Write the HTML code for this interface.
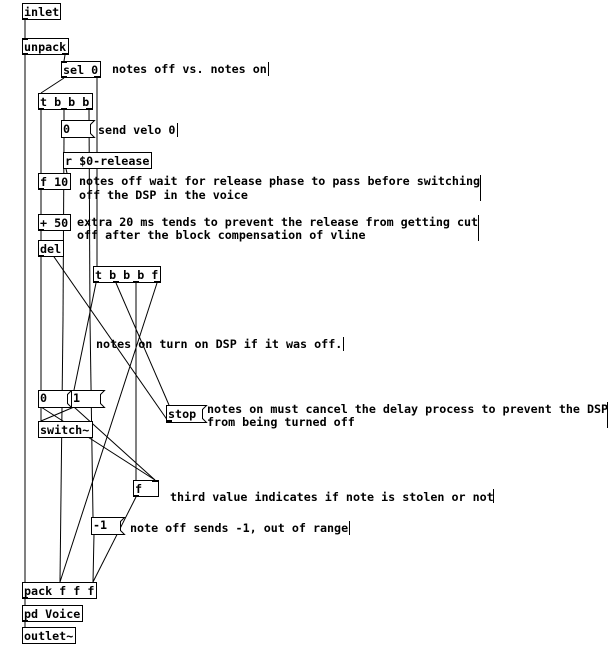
<!DOCTYPE html>
<html><head><style>
html,body{margin:0;padding:0;background:#fff}
svg{display:block}
text{font-family:"DejaVu Sans Mono","Liberation Mono",monospace;font-weight:bold;font-size:11.7px;fill:#000}
.b{fill:#fff;stroke:#000;stroke-width:1}
.l{stroke:#000;stroke-width:1;fill:none}
.c{stroke:#000;stroke-width:1.6;fill:none}
</style></head><body>
<svg width="613" height="652" viewBox="0 0 613 652" xmlns="http://www.w3.org/2000/svg">
<!-- connections -->
<g class="l">
<line x1="25" y1="20" x2="25" y2="38"/>
<line x1="25" y1="55" x2="25" y2="582"/>
<line x1="65" y1="55" x2="64" y2="61"/>
<line x1="64" y1="78" x2="41" y2="93"/>
<line x1="97" y1="78" x2="97" y2="266"/>
<line x1="41" y1="110" x2="41" y2="173"/>
<line x1="64" y1="110" x2="64" y2="120"/>
<line x1="89" y1="110" x2="90" y2="320"/>
<line x1="90" y1="320" x2="93" y2="517"/>
<line x1="64" y1="137" x2="63" y2="320"/>
<line x1="63" y1="320" x2="60" y2="582"/>
<line x1="66" y1="169" x2="67" y2="173"/>
<line x1="41" y1="190" x2="41" y2="214"/>
<line x1="41" y1="231" x2="41" y2="240"/>
<line x1="41" y1="257" x2="41" y2="390"/>
<line x1="168" y1="421" x2="43" y2="241"/>
<line x1="96" y1="283" x2="74" y2="390"/>
<line x1="116" y1="283" x2="169" y2="405"/>
<line x1="136" y1="283" x2="136" y2="480"/>
<line x1="157" y1="283" x2="60" y2="582"/>
<line x1="41" y1="407" x2="41" y2="421"/>
<line x1="74" y1="407" x2="41" y2="421"/>
<line x1="41" y1="407" x2="155" y2="480"/>
<line x1="74" y1="407" x2="155" y2="480"/>
<line x1="136" y1="497" x2="93" y2="582"/>
<line x1="94" y1="534" x2="93" y2="582"/>
<line x1="25" y1="599" x2="25" y2="605"/>
<line x1="25" y1="622" x2="25" y2="627"/>
</g>
<!-- objects -->
<g>
<rect class="b" x="22.5" y="3.5" width="38" height="16"/><text x="24" y="16">inlet</text>
<rect class="b" x="22.5" y="38.5" width="46" height="16"/><text x="24" y="51">unpack</text>
<rect class="b" x="61.5" y="61.5" width="39" height="16"/><text x="63" y="74">sel 0</text>
<rect class="b" x="38.5" y="93.5" width="54" height="16"/><text x="40" y="106">t b b b</text>
<polygon class="b" points="61.5,120.5 94.5,120.5 90.5,124.5 90.5,133.5 94.5,137.5 61.5,137.5"/><text x="63" y="133">0</text>
<rect class="b" x="63.5" y="152.5" width="88" height="16"/><text x="65" y="165">r $0-release</text>
<rect class="b" x="38.5" y="173.5" width="32" height="16"/><text x="40" y="186">f 10</text>
<rect class="b" x="38.5" y="214.5" width="32" height="16"/><text x="40" y="227">+ 50</text>
<rect class="b" x="38.5" y="240.5" width="25" height="16"/><text x="40" y="253">del</text>
<rect class="b" x="93.5" y="266.5" width="67" height="16"/><text x="95" y="279">t b b b f</text>
<polygon class="b" points="38.5,390.5 71.5,390.5 67.5,394.5 67.5,403.5 71.5,407.5 38.5,407.5"/><text x="40" y="402">0</text>
<polygon class="b" points="71.5,390.5 104.5,390.5 100.5,394.5 100.5,403.5 104.5,407.5 71.5,407.5"/><text x="73" y="402">1</text>
<polygon class="b" points="166.5,405.5 206.5,405.5 202.5,409.5 202.5,418.5 206.5,422.5 166.5,422.5"/><text x="168" y="418">stop</text>
<rect class="b" x="38.5" y="421.5" width="54" height="16"/><text x="40" y="434">switch~</text>
<rect class="b" x="133.5" y="480.5" width="25" height="16"/><text x="135" y="493">f</text>
<polygon class="b" points="91.5,517.5 124.5,517.5 120.5,521.5 120.5,530.5 124.5,534.5 91.5,534.5"/><text x="93" y="529">-1</text>
<rect class="b" x="22.5" y="582.5" width="74" height="16"/><text x="24" y="595">pack f f f</text>
<rect class="b" x="22.5" y="605.5" width="60" height="16"/><text x="24" y="618">pd Voice</text>
<rect class="b" x="22.5" y="627.5" width="53" height="16"/><text x="24" y="640">outlet~</text>
</g>
<!-- inlet/outlet marks -->
<g fill="#000">
<rect x="22" y="18" width="6" height="2"/><rect x="22" y="38" width="6" height="2"/><rect x="22" y="53" width="6" height="2"/><rect x="62" y="53" width="6" height="2"/>
<rect x="61" y="61" width="6" height="2"/><rect x="61" y="76" width="6" height="2"/><rect x="94" y="76" width="6" height="2"/>
<rect x="38" y="108" width="6" height="2"/><rect x="61" y="108" width="6" height="2"/><rect x="86" y="108" width="6" height="2"/>
<rect x="38" y="188" width="6" height="2"/><rect x="38" y="229" width="6" height="2"/><rect x="38" y="255" width="6" height="2"/>
<rect x="93" y="281" width="6" height="2"/><rect x="113" y="281" width="6" height="2"/><rect x="133" y="281" width="6" height="2"/><rect x="154" y="281" width="6" height="2"/>
<rect x="166" y="420" width="6" height="2"/><rect x="133" y="495" width="6" height="2"/><rect x="152" y="480" width="6" height="2"/>
<rect x="22" y="597" width="6" height="2"/><rect x="22" y="620" width="6" height="2"/>
</g>
<!-- comments -->
<text x="112" y="73">notes off vs. notes on</text><line class="l" x1="268.5" y1="62" x2="268.5" y2="76"/>
<text x="98" y="134">send velo 0</text><line class="l" x1="177.5" y1="123" x2="177.5" y2="137"/>
<text x="79" y="185">notes off wait for release phase to pass before switching</text>
<text x="79" y="199">off the DSP in the voice</text><line class="l" x1="480.5" y1="175" x2="480.5" y2="201"/>
<text x="77" y="226">extra 20 ms tends to prevent the release from getting cut</text>
<text x="77" y="239">off after the block compensation of vline</text><line class="l" x1="478.5" y1="215" x2="478.5" y2="241"/>
<text x="96" y="348">notes on turn on DSP if it was off.</text><line class="l" x1="343.5" y1="337" x2="343.5" y2="351"/>
<text x="207" y="413">notes on must cancel the delay process to prevent the DSP</text>
<text x="207" y="426">from being turned off</text><line class="l" x1="607.5" y1="402" x2="607.5" y2="428"/>
<text x="170" y="501">third value indicates if note is stolen or not</text><line class="l" x1="493.5" y1="489" x2="493.5" y2="503"/>
<text x="130" y="532">note off sends -1, out of range</text><line class="l" x1="349.5" y1="521" x2="349.5" y2="535"/>
</svg>
</body></html>
